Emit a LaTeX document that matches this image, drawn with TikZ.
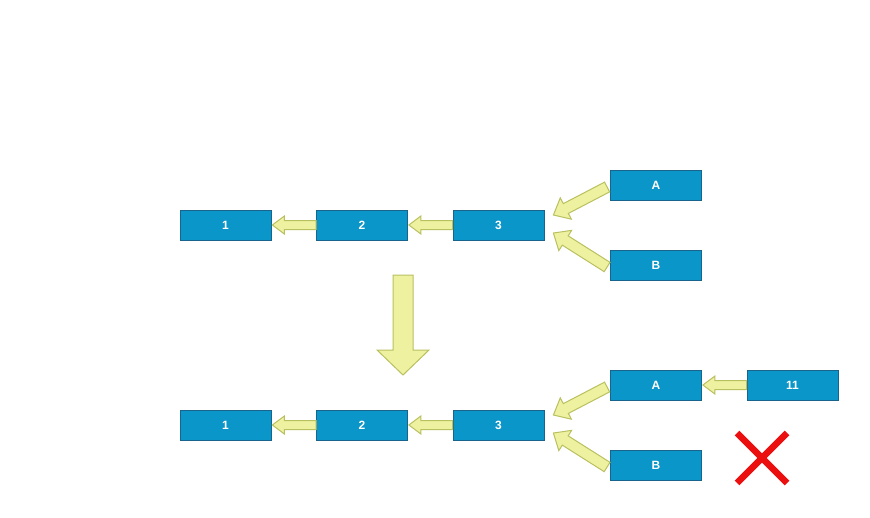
\documentclass[tikz,border=0pt]{standalone}
\usepackage{fontspec}
\setmainfont{Liberation Sans}
\usetikzlibrary{calc}
\definecolor{boxfill}{RGB}{10,150,200}
\definecolor{boxline}{RGB}{25,100,140}
\definecolor{arrfill}{RGB}{238,241,160}
\definecolor{arrline}{RGB}{185,192,95}
\definecolor{xred}{RGB}{235,15,15}
\tikzset{
  box/.style={draw=boxline, fill=boxfill, line width=0.8pt, minimum width=91pt, minimum height=30pt,
    inner sep=0pt, text=white, font=\fontsize{12}{14}\selectfont\bfseries},
  blk/.style={draw=arrline, fill=arrfill, line width=1pt, line join=miter},
}
% #1 tail, #2 tip, #3 shaft half width, #4 head half width, #5 head length
\newcommand\blockarrow[5]{%
  \path (#1) coordinate (bt) (#2) coordinate (bh);
  \path ($(bh)!#5!(bt)$) coordinate (bn);
  \draw[blk] ($(bt)!#3!90:(bh)$) -- ($(bn)!#3!90:(bh)$) -- ($(bn)!#4!90:(bh)$) -- (bh)
    -- ($(bn)!#4!-90:(bh)$) -- ($(bn)!#3!-90:(bh)$) -- ($(bt)!#3!-90:(bh)$) -- cycle;
}
\begin{document}
\begin{tikzpicture}[x=1pt,y=-1pt]
\useasboundingbox (0,0) rectangle (870,517);
% top row
\node[box] (t1) at (225.5,225) {1};
\node[box] (t2) at (362,225) {2};
\node[box] (t3) at (498.5,225) {3};
\node[box] (tA) at (656,185) {A};
\node[box] (tB) at (656,265) {B};
% bottom row
\node[box] (b1) at (225.5,425) {1};
\node[box] (b2) at (362,425) {2};
\node[box] (b3) at (498.5,425) {3};
\node[box] (bA) at (656,385) {A};
\node[box] (bB) at (656,465) {B};
\node[box] (b11) at (792.5,385) {11};
% top arrows
\blockarrow{t2.west}{$(t1.east)+(1,0)$}{4.5pt}{9pt}{12pt}
\blockarrow{t3.west}{$(t2.east)+(1,0)$}{4.5pt}{9pt}{12pt}
\blockarrow{$(tA.west)+(-3,2)$}{$(t3.east)+(9,-10)$}{5.5pt}{12pt}{14pt}
\blockarrow{$(tB.west)+(-3,2)$}{$(t3.east)+(9,8)$}{5.5pt}{12pt}{14pt}
% big down arrow
\coordinate (dtail) at (403,275);
\coordinate (dtip) at (403,375);
\blockarrow{dtail}{dtip}{10pt}{26pt}{25pt}
% bottom arrows
\blockarrow{b2.west}{$(b1.east)+(1,0)$}{4.5pt}{9pt}{12pt}
\blockarrow{b3.west}{$(b2.east)+(1,0)$}{4.5pt}{9pt}{12pt}
\blockarrow{$(bA.west)+(-3,2)$}{$(b3.east)+(9,-10)$}{5.5pt}{12pt}{14pt}
\blockarrow{$(bB.west)+(-3,2)$}{$(b3.east)+(9,8)$}{5.5pt}{12pt}{14pt}
\blockarrow{b11.west}{$(bA.east)+(1,0)$}{4.5pt}{9pt}{12pt}
% red cross
\coordinate (xc) at (762,458);
\draw[xred, line width=6.5pt] ($(xc)+(-25,-25)$) -- ($(xc)+(25,25)$);
\draw[xred, line width=6.5pt] ($(xc)+(25,-25)$) -- ($(xc)+(-25,25)$);
\end{tikzpicture}
\end{document}
